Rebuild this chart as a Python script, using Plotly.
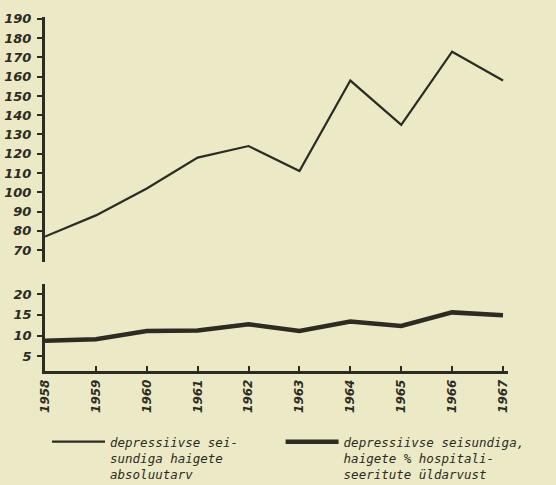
import plotly.graph_objects as go

years = [1958, 1959, 1960, 1961, 1962, 1963, 1964, 1965, 1966, 1967]
absolute_count = [77, 88, 102, 118, 124, 111, 158, 135, 173, 158]
percent_hosp = [8.7, 9.1, 11.1, 11.2, 12.7, 11.1, 13.4, 12.3, 15.6, 14.9]
top_ticks = [70, 80, 90, 100, 110, 120, 130, 140, 150, 160, 170, 180, 190]
bottom_ticks = [5, 10, 15, 20]
year_labels = [str(y) for y in years]
name_abs = "depressiivse sei-" + "&nbsp;" * 5 + "<br>sundiga haigete<br>absoluutarv"
name_pct = "depressiivse seisundiga,<br>haigete % hospitali-<br>seeritute üldarvust"

W, H = 556, 485
INK = "#2d2b22"
BG = "#ebe9c6"

def px_x(p):
    return p / W

def px_y(p):
    return 1 - p / H

fig = go.Figure()
fig.add_trace(go.Scatter(x=years, y=absolute_count, mode="lines", name=name_abs,
                         line=dict(color=INK, width=2.2), xaxis="x", yaxis="y"))
fig.add_trace(go.Scatter(x=years, y=percent_hosp, mode="lines", name=name_pct,
                         line=dict(color=INK, width=4.5), xaxis="x", yaxis="y2"))

tickfont = dict(family="DejaVu Sans", size=13, color=INK, weight="bold", style="italic")

fig.update_layout(
    width=W, height=H,
    margin=dict(l=0, r=0, t=0, b=0, autoexpand=False),
    paper_bgcolor=BG, plot_bgcolor="rgba(0,0,0,0)",
    showlegend=True,
    legend=dict(orientation="h", x=px_x(47), xanchor="left", y=px_y(427), yanchor="top",
                bgcolor="rgba(0,0,0,0)", valign="top", itemwidth=53,
                font=dict(family="DejaVu Sans Mono", size=12.5, color=INK, style="italic")),
    xaxis=dict(domain=[px_x(45), px_x(508)], range=[1958, 1967.098], anchor="y2",
               showgrid=False, zeroline=False, showline=True, linecolor=INK, linewidth=2.5,
               ticks="inside", ticklen=5, tickwidth=1.5, tickcolor=INK,
               tickvals=years, ticktext=year_labels, tickangle=-90,
               ticklabelstandoff=1,
               tickfont=dict(family="DejaVu Sans", size=12, color=INK, weight="bold", style="italic")),
    yaxis=dict(domain=[px_y(262), px_y(17)], range=[63.8, 191], anchor="x",
               showgrid=False, zeroline=False, showline=True, linecolor=INK, linewidth=3,
               ticks="outside", ticklen=5, tickwidth=2, tickcolor=INK,
               ticklabelstandoff=3,
               tickvals=top_ticks, tickfont=tickfont),
    yaxis2=dict(domain=[px_y(371), px_y(283.5)], range=[1.4, 22.6], anchor="x",
                showgrid=False, zeroline=False, showline=True, linecolor=INK, linewidth=2.5,
                ticks="outside", ticklen=5, tickwidth=2, tickcolor=INK,
                ticklabelstandoff=3,
                tickvals=bottom_ticks, tickfont=tickfont),
)

fig.write_html("out.html", config={"displayModeBar": False},
               post_script="document.body.style.margin='0';")
